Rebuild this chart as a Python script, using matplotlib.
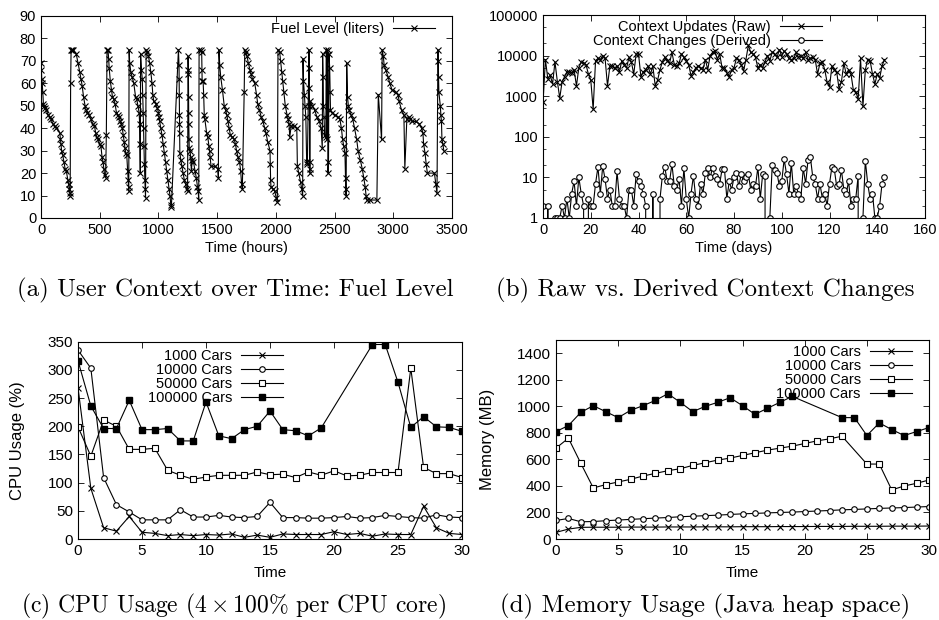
import numpy as np
import matplotlib
matplotlib.use("Agg")
import matplotlib.pyplot as plt
from matplotlib.ticker import LogLocator, NullFormatter, FixedLocator

plt.rcParams['font.family'] = ['Liberation Sans', 'DejaVu Sans']
plt.rcParams['font.size'] = 10.5
plt.rcParams['mathtext.fontset'] = 'cm'

# ---- (a) fuel level over time ----
hours = [0, 3, 6, 10, 15, 20, 25, 35, 45, 60, 75, 85, 100, 115, 130, 160, 165, 170, 175, 185,
         195, 205, 215, 228, 235, 240, 245, 248, 252, 256, 265, 275, 300, 315, 330, 340, 350, 362, 375, 385,
         395, 410, 425, 440, 455, 465, 475, 485, 500, 510, 520, 528, 535, 542, 550, 556, 562, 570, 576, 580,
         590, 600, 608, 618, 630, 642, 655, 665, 675, 685, 692, 700, 708, 715, 722, 730, 738, 742, 745, 747,
         750, 755, 765, 775, 790, 805, 815, 825, 835, 840, 842, 845, 848, 855, 862, 866, 870, 873, 877, 880,
         884, 887, 890, 895, 905, 915, 925, 935, 945, 952, 960, 975, 990, 1000, 1005, 1010, 1020, 1030, 1040, 1050,
         1060, 1070, 1080, 1090, 1098, 1105, 1110, 1170, 1175, 1176, 1177, 1178, 1179, 1180, 1182, 1190, 1200, 1210, 1220, 1232,
         1242, 1248, 1252, 1254, 1255, 1256, 1257, 1258, 1260, 1262, 1268, 1275, 1280, 1288, 1298, 1312, 1322, 1332, 1338, 1343,
         1346, 1358, 1368, 1370, 1372, 1380, 1385, 1390, 1395, 1410, 1420, 1430, 1435, 1440, 1448, 1480, 1505, 1510, 1515, 1522,
         1530, 1545, 1560, 1572, 1582, 1592, 1602, 1612, 1630, 1645, 1655, 1665, 1678, 1690, 1700, 1708, 1714, 1730, 1735, 1745,
         1755, 1765, 1780, 1790, 1800, 1820, 1835, 1845, 1860, 1875, 1890, 1905, 1915, 1930, 1950, 1952, 1955, 1958, 1975, 1990,
         2003, 2012, 2018, 2032, 2040, 2050, 2058, 2068, 2080, 2095, 2105, 2112, 2118, 2130, 2150, 2178, 2183, 2195, 2210, 2220,
         2228, 2231, 2235, 2243, 2248, 2255, 2262, 2268, 2282, 2284, 2285, 2286, 2287, 2288, 2289, 2292, 2310, 2330, 2350, 2370,
         2385, 2395, 2398, 2402, 2405, 2410, 2415, 2425, 2430, 2432, 2440, 2443, 2448, 2452, 2458, 2462, 2465, 2480, 2500, 2530,
         2545, 2558, 2568, 2578, 2588, 2593, 2595, 2598, 2603, 2610, 2617, 2625, 2640, 2655, 2670, 2688, 2700, 2718, 2735, 2748,
         2760, 2768, 2775, 2800, 2860, 2872, 2900, 2905, 2915, 2922, 2935, 2955, 2970, 2990, 3020, 3040, 3050, 3070, 3090, 3098,
         3115, 3130, 3145, 3160, 3190, 3220, 3240, 3252, 3258, 3270, 3280, 3290, 3350, 3362, 3372, 3380, 3383, 3385, 3388, 3400,
         3405, 3410, 3414, 3422, 3430]
fuel = [69, 66, 62, 60, 56, 51, 50, 49, 48, 46, 45, 44, 42, 41, 40, 38, 35, 33, 30, 28,
        25, 22, 21, 17, 15, 13, 11, 10, 60, 75, 75, 75, 73, 69, 65, 62, 59, 54, 50, 48,
        47, 46, 44, 42, 41, 38, 36, 35, 33, 32, 27, 25, 22, 19, 18, 37, 75, 75, 71, 67,
        61, 57, 54, 53, 51, 47, 46, 45, 43, 42, 40, 37, 34, 31, 29, 28, 21, 17, 14, 12,
        75, 69, 65, 63, 60, 54, 53, 50, 47, 42, 33, 20, 73, 66, 62, 55, 47, 40, 32, 24,
        17, 13, 9, 75, 74, 72, 69, 65, 60, 55, 52, 51, 49, 47, 45, 43, 40, 37, 33, 29,
        25, 21, 17, 13, 10, 6, 5, 75, 68, 62, 55, 46, 42, 38, 29, 26, 23, 20, 17, 15,
        13, 12, 72, 66, 64, 54, 47, 42, 35, 31, 30, 27, 21, 26, 25, 21, 18, 14, 12, 8,
        75, 75, 74, 66, 61, 61, 55, 46, 44, 38, 36, 32, 30, 27, 23, 23, 22, 18, 75, 68,
        63, 57, 50, 48, 46, 43, 40, 37, 36, 35, 33, 30, 27, 25, 21, 15, 13, 56, 75, 74,
        72, 69, 66, 64, 62, 60, 55, 51, 48, 45, 43, 40, 38, 34, 30, 24, 17, 14, 13, 12,
        9, 7, 75, 74, 70, 65, 61, 56, 50, 46, 44, 42, 36, 41, 41, 40, 23, 20, 16, 13,
        10, 71, 61, 55, 50, 45, 25, 24, 75, 67, 58, 50, 25, 22, 20, 52, 50, 48, 45, 43,
        40, 31, 73, 63, 50, 45, 37, 36, 75, 35, 75, 20, 25, 73, 67, 56, 48, 47, 46, 45,
        44, 40, 35, 32, 29, 18, 13, 10, 69, 54, 50, 48, 46, 44, 40, 35, 30, 26, 22, 18,
        14, 10, 8, 8, 8, 55, 35, 75, 72, 68, 66, 63, 60, 57, 56, 55, 52, 48, 46, 22,
        44, 45, 44, 43, 43, 42, 40, 38, 33, 29, 24, 20, 20, 15, 11, 75, 70, 63, 56, 50,
        46, 43, 35, 33, 30]

# ---- (b) raw vs derived context changes (per day) ----
raw_updates = [700, 8000, 2700, 3300, 2000, 7000, 2300, 900, 2300, 3000, 4000, 4000, 3800, 4500, 1800, 5000,
               7000, 6500, 6000, 3500, 2500, 480, 7500, 8500, 8000, 10000, 8500, 1800, 5500, 5500, 5000, 5500,
               4000, 7500, 6000, 5000, 9000, 7000, 3500, 11000, 11000, 3000, 4000, 4500, 5500, 3500, 5500, 1800,
               2500, 4500, 7000, 9000, 7500, 6500, 12000, 6000, 5500, 6500, 11000, 9000, 7500, 6000, 3200, 4000,
               5000, 5500, 5000, 4500, 8000, 4500, 10000, 12000, 13000, 8000, 11000, 5000, 5000, 3800, 3000, 4500,
               5000, 8500, 8000, 6000, 4200, 8000, 18000, 12000, 11000, 9000, 5000, 6000, 5000, 7000, 10000, 7500,
               12000, 11000, 9000, 14000, 9500, 13000, 11000, 8500, 8000, 8500, 12000, 9000, 10000, 8500, 12000, 8000,
               8500, 9000, 8000, 3500, 6500, 7000, 4500, 2200, 1700, 5500, 4500, 4000, 1500, 2300, 6500, 3500,
               4500, 3500, 1400, 1300, 850, 8500, 560, 4500, 8000, 7500, 3500, 2000, 3500, 2800,
               5500, 8000]
derived_changes = [2, 0, 2, 0, 0, 1, 1, 1, 2, 1, 3, 1, 4, 8, 2, 10, 4, 2, 0, 3,
                   2, 2, 7, 18, 4, 19, 9, 3, 5, 2, 2, 14, 3, 2, 2, 1, 5, 5, 2, 12,
                   8, 6, 4, 2, 0, 0, 4, 0, 0, 3, 11, 18, 8, 8, 21, 6, 5, 9, 2, 17,
                   3, 1, 4, 11, 3, 2, 7, 4, 13, 17, 10, 17, 11, 9, 7, 16, 16, 3, 8, 5,
                   10, 13, 6, 12, 8, 10, 12, 5, 7, 6, 18, 3, 12, 11, 0, 1, 20, 15, 13, 6,
                   8, 28, 12, 4, 23, 4, 6, 4, 3, 17, 7, 27, 31, 10, 7, 3, 7, 3, 4, 2,
                   7, 18, 16, 6, 7, 15, 5, 4, 8, 2, 3, 3, 11, 0, 1, 26, 7, 3, 4, 1,
                   1, 2, 7, 10]

# ---- (c) CPU usage ----
time = list(range(31))
cpu_1000 = [268, 90, 20, 14, 40, 12, 10, 6, 8, 6, 8, 7, 9, 3, 7, 3, 9, 8, 8, 8,
            13, 8, 10, 5, 9, 8, 8, 58, 20, 10, 8]
cpu_10000 = [335, 303, 109, 61, 48, 34, 34, 34, 52, 39, 39, 42, 39, 38, 40, 65, 38, 38, 37, 37,
             38, 40, 37, 38, 42, 40, 38, 37, 43, 39, 38]
cpu_50000 = [199, 147, 211, 200, 159, 159, 161, 122, 113, 106, 110, 113, 113, 113, 119, 114, 115, 109, 119, 113,
             121, 112, 113, 118, 118, 118, 303, 127, 116, 116, 109]
time_100000 = [0, 1, 2, 3, 4, 5, 6, 7, 8, 9, 10, 11, 12, 13, 14, 15, 16, 17, 18, 19,
               23, 24, 25, 26, 27, 28, 29, 30]
cpu_100000 = [316, 236, 196, 196, 246, 194, 194, 196, 174, 174, 243, 183, 178, 194, 200, 227, 194, 192, 183, 197,
              345, 345, 278, 198, 217, 199, 198, 191]

# ---- (d) memory usage ----
mem_1000 = [50, 75, 88, 89, 89, 89, 90, 90, 90, 91, 91, 91, 92, 92, 92, 93, 93, 93, 94, 94,
            94, 95, 95, 95, 96, 96, 96, 97, 97, 97, 98]
mem_10000 = [140, 155, 130, 132, 138, 143, 148, 153, 158, 162, 168, 172, 176, 180, 185, 190, 193, 197, 200, 203,
             207, 211, 215, 220, 223, 227, 231, 234, 237, 241, 245]
time_mem_50000 = [0, 1, 2, 3, 4, 5, 6, 7, 8, 9, 10, 11, 12, 13, 14, 15, 16, 17, 18, 19,
                  20, 21, 22, 23, 25, 26, 27, 28, 29, 30]
mem_50000 = [685, 760, 570, 385, 410, 430, 450, 475, 495, 515, 530, 555, 575, 595, 610, 630, 650, 670, 685, 700,
             720, 740, 755, 775, 565, 565, 370, 400, 420, 445]
mem_100000 = [810, 855, 955, 1005, 960, 915, 970, 1005, 1045, 1095, 1030, 960, 1000, 1030, 1065, 1005, 940, 985, 1030, 1075,
              915, 915, 780, 875, 825, 780, 810, 840]

fig = plt.figure(figsize=(9.39, 6.20), dpi=100)
ax_a = fig.add_axes([0.0437, 0.6484, 0.4377, 0.3258])
ax_b = fig.add_axes([0.5783, 0.6484, 0.4068, 0.3274])
ax_c = fig.add_axes([0.0831, 0.1306, 0.4089, 0.3183])
ax_d = fig.add_axes([0.5921, 0.1306, 0.3973, 0.3210])

lw = 0.8
ms = 4
leg_kw = dict(frameon=False, markerfirst=False, handlelength=2.9, handletextpad=0.6,
              labelspacing=0.0, numpoints=1, fontsize=10.5, borderpad=0.0, borderaxespad=0.0,
              loc='upper right')

for ax in (ax_a, ax_b, ax_c, ax_d):
    ax.tick_params(direction='in', top=True, right=True, length=4, width=0.6, labelsize=10.5)
    ax.tick_params(which='minor', direction='in', top=True, right=True, length=2, width=0.5)
    for s in ax.spines.values():
        s.set_linewidth(0.8)
for ax in (ax_c, ax_d):
    ax.tick_params(labelsize=11)

# (a)
ax_a.plot(hours, fuel, color='black', lw=lw, marker='x', ms=ms, mew=0.8, label='Fuel Level (liters)')
ax_a.set_xlim(0, 3500)
ax_a.set_ylim(0, 90)
ax_a.set_xticks(np.arange(0, 3501, 500))
ax_a.set_yticks(np.arange(0, 91, 10))
ax_a.set_xlabel('Time (hours)', labelpad=3)
ax_a.legend(bbox_to_anchor=(0.9586, 0.970), **leg_kw)

# (b)
days = np.arange(len(raw_updates))
ax_b.set_yscale('log', nonpositive='clip')
ax_b.plot(days, raw_updates, color='black', lw=lw, marker='x', ms=ms, mew=0.8,
          label='Context Updates (Raw)')
ax_b.plot(days[:len(derived_changes)], derived_changes, color='black', lw=lw, marker='o', ms=ms,
          mfc='white', mew=0.8, label='Context Changes (Derived)')
ax_b.set_xlim(0, 160)
ax_b.set_ylim(1, 100000)
ax_b.set_xticks(np.arange(0, 161, 20))
ax_b.yaxis.set_major_locator(FixedLocator([1, 10, 100, 1000, 10000, 100000]))
ax_b.set_yticklabels(['1', '10', '100', '1000', '10000', '100000'])
ax_b.yaxis.set_minor_locator(LogLocator(base=10, subs=(2.0, 5.0)))
ax_b.yaxis.set_minor_formatter(NullFormatter())
ax_b.set_xlabel('Time (days)', labelpad=3)
ax_b.legend(bbox_to_anchor=(0.730, 0.975), **leg_kw)

# (c)
ax_c.plot(time, cpu_1000, color='black', lw=lw, marker='x', ms=ms, mew=0.8, label='1000 Cars')
ax_c.plot(time, cpu_10000, color='black', lw=lw, marker='o', ms=ms, mfc='white', mew=0.8, label='10000 Cars')
ax_c.plot(time, cpu_50000, color='black', lw=lw, marker='s', ms=ms, mfc='white', mew=0.8, label='50000 Cars')
ax_c.plot(time_100000, cpu_100000, color='black', lw=lw, marker='s', ms=ms + 1, mfc='black', label='100000 Cars')
ax_c.set_xlim(0, 30)
ax_c.set_ylim(0, 350)
ax_c.set_xticks(np.arange(0, 31, 5))
ax_c.set_yticks(np.arange(0, 351, 50))
ax_c.set_xlabel('Time', fontsize=11, labelpad=6)
ax_c.set_ylabel('CPU Usage (%)', fontsize=12)
ax_c.yaxis.set_label_coords(-0.138, 0.5)
ax_c.legend(bbox_to_anchor=(0.534, 0.963), **leg_kw)

# (d)
ax_d.plot(time, mem_1000, color='black', lw=lw, marker='x', ms=ms, mew=0.8, label='1000 Cars')
ax_d.plot(time, mem_10000, color='black', lw=lw, marker='o', ms=ms, mfc='white', mew=0.8, label='10000 Cars')
ax_d.plot(time_mem_50000, mem_50000, color='black', lw=lw, marker='s', ms=ms, mfc='white', mew=0.8, label='50000 Cars')
ax_d.plot(time_100000, mem_100000, color='black', lw=lw, marker='s', ms=ms + 1, mfc='black', label='100000 Cars')
ax_d.set_xlim(0, 30)
ax_d.set_ylim(0, 1500)
ax_d.set_xticks(np.arange(0, 31, 5))
ax_d.set_yticks(np.arange(0, 1401, 200))
ax_d.set_xlabel('Time', fontsize=11, labelpad=6)
ax_d.set_ylabel('Memory (MB)', fontsize=12)
ax_d.yaxis.set_label_coords(-0.1635, 0.5)
ax_d.legend(bbox_to_anchor=(0.954, 0.975), **leg_kw)

# captions
cap_kw = dict(family='cmr10', fontsize=18, ha='center', va='center')
fig.text(235 / 939, 1 - 290 / 620, '(a) User Context over Time: Fuel Level', **cap_kw)
fig.text(705 / 939, 1 - 290 / 620, '(b) Raw vs. Derived Context Changes', **cap_kw)
fig.text(234 / 939, 1 - 606 / 620, r'(c) CPU Usage ($4\times100$% per CPU core)',
         family='cmr10', fontsize=17, ha='center', va='center')
fig.text(705 / 939, 1 - 606 / 620, '(d) Memory Usage (Java heap space)', **cap_kw)

fig.savefig('out.png', dpi=100)
